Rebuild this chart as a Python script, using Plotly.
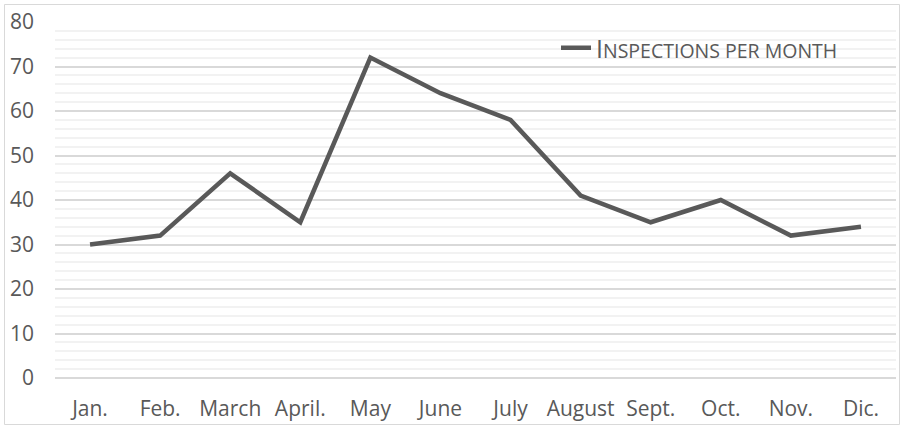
import plotly.graph_objects as go

months = ["Jan.", "Feb.", "March", "April.", "May", "June", "July", "August", "Sept.", "Oct.", "Nov.", "Dic."]
inspections = [30, 32, 46, 35, 72, 64, 58, 41, 35, 40, 32, 34]
y_ticks = [0, 10, 20, 30, 40, 50, 60, 70, 80]

L, R, T, B = 55, 4, 22, 48
W, H = 900, 426
pw, ph = W - L - R, H - T - B

def px_x(p):
    return (p - L) / pw

def px_y(p):
    return (H - B - p) / ph

fig = go.Figure()
fig.add_trace(go.Scatter(
    x=months, y=inspections, mode="lines",
    name="I<span style='font-size:19.5px'>NSPECTIONS PER MONTH</span>",
    line=dict(color="#595959", width=4.5),
))

fig.update_layout(
    width=W, height=H,
    margin=dict(l=L, r=R, t=T, b=B, autoexpand=False),
    paper_bgcolor="white", plot_bgcolor="white",
    font=dict(family="Open Sans", color="#595959", size=21),
    showlegend=True,
    legend=dict(
        x=px_x(556), y=px_y(48), xanchor="left", yanchor="middle",
        font=dict(size=25, color="#595959"),
        bgcolor="rgba(0,0,0,0)",
    ),
    xaxis=dict(
        type="category", range=[-0.5, 11.5], automargin=False,
        showgrid=False, zeroline=False, showline=False,
        ticks="", ticklabelstandoff=16,
        tickfont=dict(size=21, color="#595959"),
    ),
    yaxis=dict(
        range=[0, 80], tickvals=y_ticks, automargin=False,
        showgrid=True, gridcolor="#d9d9d9", gridwidth=1.5,
        zeroline=True, zerolinecolor="#d9d9d9", zerolinewidth=1.5,
        showline=False, ticks="", ticklabelstandoff=20,
        tickfont=dict(size=21, color="#595959"),
        minor=dict(dtick=2, showgrid=True, gridcolor="#f2f2f2", gridwidth=1.5),
    ),
    shapes=[dict(
        type="rect", xref="paper", yref="paper",
        x0=px_x(4.5), x1=px_x(899.5), y0=px_y(424.5), y1=px_y(4.5),
        line=dict(color="#d9d9d9", width=1), fillcolor="rgba(0,0,0,0)",
        layer="below",
    )],
)

fig.write_html(
    "out.html",
    config={"displayModeBar": False},
    post_script="document.body.style.margin='0';document.body.style.overflow='hidden';",
)
